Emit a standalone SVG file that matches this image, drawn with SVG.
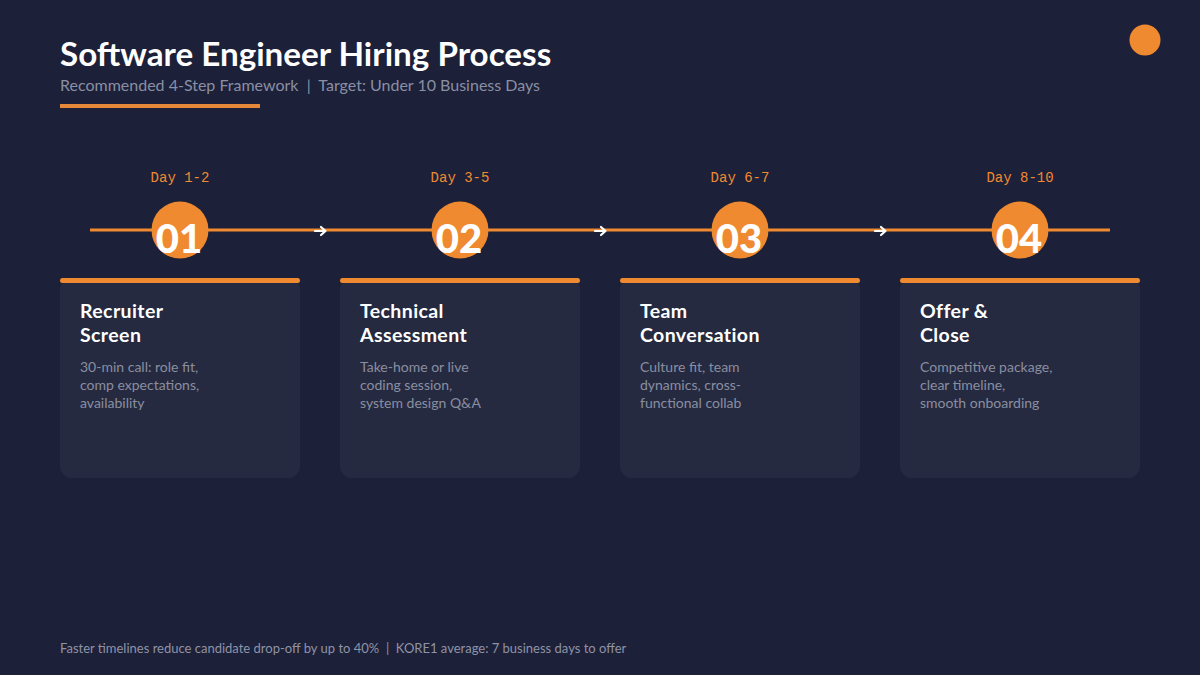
<svg xmlns="http://www.w3.org/2000/svg" width="1200" height="675" viewBox="0 0 1200 675">
<defs>
<style>
text{white-space:pre}
.title{font-family:Lato,"Open Sans",sans-serif;font-weight:700;font-size:33.2px;fill:#ffffff}
.sub{font-family:Lato,"Open Sans",sans-serif;font-size:16px;fill:#8a8fa3}
.day{font-family:"Liberation Mono","DejaVu Sans Mono",monospace;font-size:14px;fill:#f08a30}
.num{font-family:Lato,"Open Sans",sans-serif;font-weight:900;font-size:40px;fill:#ffffff}
.card{fill:#252a40}
.bar{fill:#f08a30}
.ctitle{font-family:Lato,"Open Sans",sans-serif;font-weight:700;font-size:19.5px;letter-spacing:0.4px;fill:#ffffff}
.desc{font-family:Lato,"Open Sans",sans-serif;font-size:14px;fill:#8a8ea0}
.foot{font-family:Lato,"Open Sans",sans-serif;font-size:13px;fill:#8f93a6}
.arrow{fill:none;stroke:#ffffff;stroke-width:2.2;stroke-linecap:round;stroke-linejoin:round}
</style>
</defs>
<rect x="0" y="0" width="1200" height="675" fill="#1c2039"/>
<g id="header">
<text class="title" x="60" y="66">Software Engineer Hiring Process</text>
<text class="sub" x="60" y="91">Recommended 4-Step Framework  |  Target: Under 10 Business Days</text>
<rect x="60" y="104" width="200" height="4" fill="#e5883a"/>
<circle cx="1145" cy="40" r="15.5" fill="#f08a30"/>
</g>
<g id="connectors">
<line x1="90" y1="230" x2="1110" y2="230" stroke="#f08a30" stroke-width="3"/>
<path class="arrow" d="M315 231 H325 M321 227 L325.5 231 L321 235"/>
<path class="arrow" d="M595 231 H605 M601 227 L605.5 231 L601 235"/>
<path class="arrow" d="M875 231 H885 M881 227 L885.5 231 L881 235"/>
</g>
<g id="step1">
<text class="day" x="180" y="182" text-anchor="middle">Day 1-2</text>
<circle cx="180" cy="230" r="28.5" fill="#f08a30"/>
<text class="num" x="179" y="253" text-anchor="middle">01</text>
<rect class="card" x="60" y="278" width="240" height="200" rx="12"/>
<rect class="bar" x="60" y="278" width="240" height="5" rx="2.5"/>
<text class="ctitle" x="80" y="318">Recruiter</text>
<text class="ctitle" x="80" y="342">Screen</text>
<text class="desc" x="80" y="372">30-min call: role fit,</text>
<text class="desc" x="80" y="390">comp expectations,</text>
<text class="desc" x="80" y="408">availability</text>
</g>
<g id="step2">
<text class="day" x="460" y="182" text-anchor="middle">Day 3-5</text>
<circle cx="460" cy="230" r="28.5" fill="#f08a30"/>
<text class="num" x="459" y="253" text-anchor="middle">02</text>
<rect class="card" x="340" y="278" width="240" height="200" rx="12"/>
<rect class="bar" x="340" y="278" width="240" height="5" rx="2.5"/>
<text class="ctitle" x="360" y="318">Technical</text>
<text class="ctitle" x="360" y="342">Assessment</text>
<text class="desc" x="360" y="372">Take-home or live</text>
<text class="desc" x="360" y="390">coding session,</text>
<text class="desc" x="360" y="408">system design Q&amp;A</text>
</g>
<g id="step3">
<text class="day" x="740" y="182" text-anchor="middle">Day 6-7</text>
<circle cx="740" cy="230" r="28.5" fill="#f08a30"/>
<text class="num" x="739" y="253" text-anchor="middle">03</text>
<rect class="card" x="620" y="278" width="240" height="200" rx="12"/>
<rect class="bar" x="620" y="278" width="240" height="5" rx="2.5"/>
<text class="ctitle" x="640" y="318">Team</text>
<text class="ctitle" x="640" y="342">Conversation</text>
<text class="desc" x="640" y="372">Culture fit, team</text>
<text class="desc" x="640" y="390">dynamics, cross-</text>
<text class="desc" x="640" y="408">functional collab</text>
</g>
<g id="step4">
<text class="day" x="1020" y="182" text-anchor="middle">Day 8-10</text>
<circle cx="1020" cy="230" r="28.5" fill="#f08a30"/>
<text class="num" x="1019" y="253" text-anchor="middle">04</text>
<rect class="card" x="900" y="278" width="240" height="200" rx="12"/>
<rect class="bar" x="900" y="278" width="240" height="5" rx="2.5"/>
<text class="ctitle" x="920" y="318">Offer &amp;</text>
<text class="ctitle" x="920" y="342">Close</text>
<text class="desc" x="920" y="372">Competitive package,</text>
<text class="desc" x="920" y="390">clear timeline,</text>
<text class="desc" x="920" y="408">smooth onboarding</text>
</g>
<g id="footer">
<text class="foot" x="60" y="653">Faster timelines reduce candidate drop-off by up to 40%  |  KORE1 average: 7 business days to offer</text>
</g>
</svg>
